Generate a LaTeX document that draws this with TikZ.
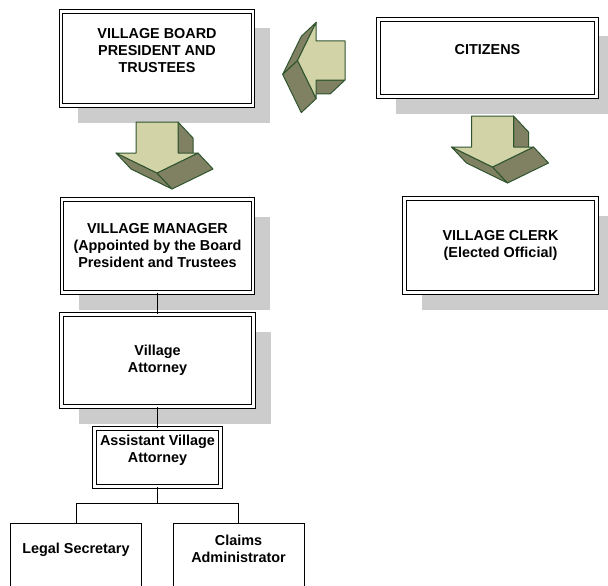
\documentclass[tikz,border=0pt]{standalone}
\usepackage{fontspec}
\setmainfont{Liberation Sans}
\usetikzlibrary{shadows}
\definecolor{arrowlight}{RGB}{211,211,168}
\definecolor{arrowdark}{RGB}{128,128,98}
\definecolor{arrowedge}{RGB}{47,85,47}
\definecolor{shadowgray}{RGB}{204,204,204}
\tikzset{
  chartbox/.style={draw=black, line width=1.3pt, double=white, double distance=2.2pt,
    fill=white, align=center, inner sep=0pt,
    font=\fontsize{14.4pt}{17pt}\selectfont\bfseries},
  shadowbox/.style={chartbox,
    drop shadow={shadow xshift=17pt, shadow yshift=-17pt, fill=shadowgray, opacity=1}},
  staffbox/.style={draw=black, line width=1pt, fill=white, align=center, anchor=north,
    inner sep=4pt, minimum width=131pt, text depth=60pt,
    font=\fontsize{14.4pt}{17pt}\selectfont\bfseries},
  link/.style={draw=black, line width=1pt},
  arrowface/.style={fill=arrowlight, draw=arrowedge, line width=1pt, line join=round},
  arrowside/.style={fill=arrowdark, draw=arrowedge, line width=1pt, line join=round},
  blockarrow/.pic={
    \filldraw[arrowside] (21,0) -- (36,16) -- (36,47) -- (21,31) -- cycle;
    \filldraw[arrowside] (-41,31) -- (0,51) -- (15,67) -- (-26,47) -- cycle;
    \filldraw[arrowside] (0,51) -- (41,31) -- (56,47) -- (15,67) -- cycle;
    \filldraw[arrowface] (-21,0) -- (21,0) -- (21,31) -- (41,31) -- (0,51) -- (-41,31) -- (-21,31) -- cycle;
  }
}
\begin{document}
\begin{tikzpicture}[x=1pt,y=-1pt]
\useasboundingbox (0,0) rectangle (608,586);
\clip (0,0) rectangle (608,586);
% Drawing boxes
\node[shadowbox, minimum width=192pt, minimum height=94pt] (board) at (157,58.5)
  {VILLAGE BOARD\\PRESIDENT AND\\TRUSTEES\\~};
\node[shadowbox, minimum width=218pt, minimum height=77pt] (citizens) at (487.5,58)
  {CITIZENS\\~};
\node[shadowbox, minimum width=191pt, minimum height=93pt] (manager) at (157.5,246)
  {VILLAGE MANAGER\\(Appointed by the Board\\President and Trustees};
\node[shadowbox, minimum width=192pt, minimum height=94pt] (clerk) at (500.5,245.5)
  {VILLAGE CLERK\\(Elected Official)};
\node[shadowbox, minimum width=192pt, minimum height=92pt] (attorney) at (157.5,360.5)
  {Village\\Attorney};
\node[chartbox, minimum width=126pt, minimum height=58pt] (assistant) at (157.5,457.5)
  {Assistant Village\\Attorney\\~};
\node[staffbox, text height=25.5pt] (legal) at (76,523) {Legal Secretary};
\node[staffbox, text height=34.5pt] (claims) at (238.5,523) {Claims\\Administrator};
% Done with boxes; drawing connectors
\coordinate (split) at (157.5,503.5);
\draw[link] (manager) -- (attorney);
\draw[link] (attorney) -- (assistant);
\draw[link] (assistant) -- (split);
\draw[link] (legal.north) |- (split) -| (claims.north);
% Done with connectors; drawing block arrows
\pic at (157,122) {blockarrow};
\pic at (492.5,116) {blockarrow};
\pic[rotate=-90, scale=0.93] at (345,60.5) {blockarrow};
% Done with arrows
\end{tikzpicture}
\end{document}
